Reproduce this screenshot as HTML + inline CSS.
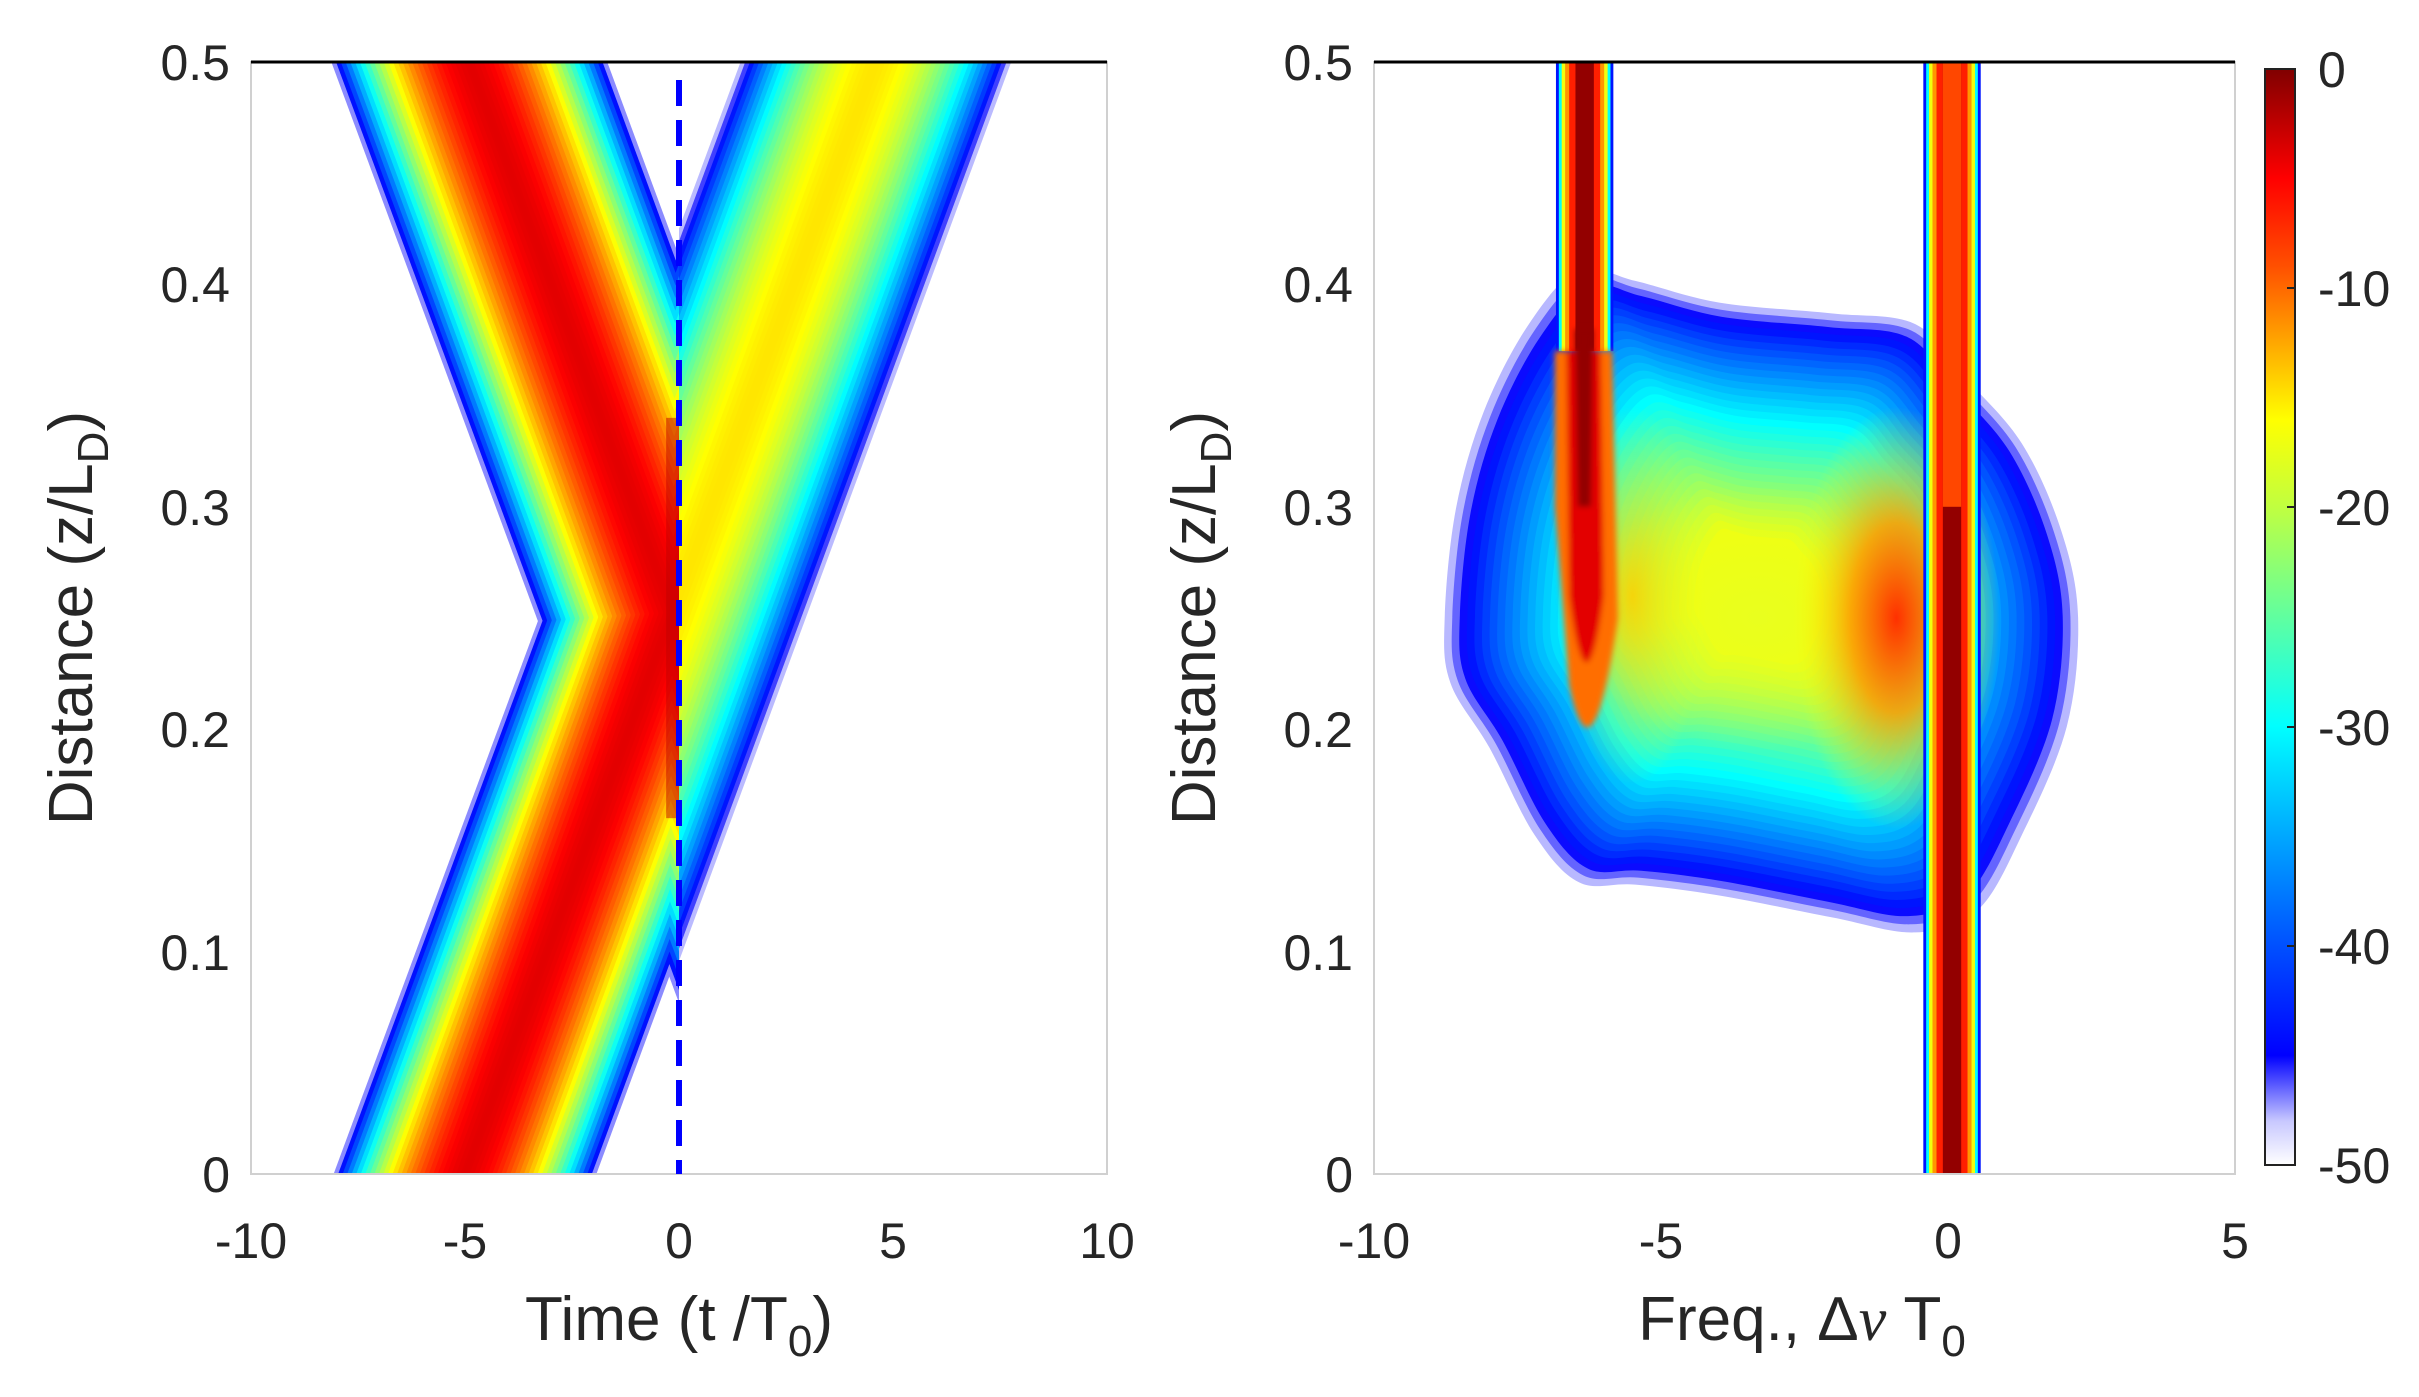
<!DOCTYPE html>
<html><head><meta charset="utf-8">
<style>
html,body{margin:0;padding:0;background:#fff;}
svg{display:block;}
text{font-family:"Liberation Sans",Arial,sans-serif;fill:#262626;}
</style></head>
<body>
<svg id="s" xmlns="http://www.w3.org/2000/svg" width="2419" height="1397" viewBox="0 0 2419 1397">
<defs>
<clipPath id="cL"><rect x="251" y="62" width="428" height="1112"/></clipPath>
<clipPath id="cR"><rect x="679" y="62" width="428" height="1112"/></clipPath>
<clipPath id="cS"><rect x="1374" y="62" width="861" height="1112"/></clipPath>
<linearGradient id="cb" x1="0" y1="1" x2="0" y2="0">
<stop offset="0" stop-color="#ffffff"/><stop offset="0.04" stop-color="#c8c8ff"/><stop offset="0.1" stop-color="#0000ff"/>
<stop offset="0.2" stop-color="#0050ff"/><stop offset="0.4" stop-color="#00ffff"/><stop offset="0.6" stop-color="#c0ff40"/>
<stop offset="0.68" stop-color="#ffff00"/><stop offset="0.82" stop-color="#ff5000"/><stop offset="0.9" stop-color="#ff0000"/><stop offset="1" stop-color="#800000"/>
</linearGradient>
<radialGradient id="g0" cx="0.5" cy="0.5" r="0.5">
<stop offset="0" stop-color="#ff3000" stop-opacity="1"/><stop offset="0.45" stop-color="#ffa000" stop-opacity="0.9"/><stop offset="1" stop-color="#ffff00" stop-opacity="0"/>
</radialGradient>
<radialGradient id="g1" cx="0.5" cy="0.5" r="0.5">
<stop offset="0" stop-color="#ffd000" stop-opacity="0.9"/><stop offset="1" stop-color="#ffff00" stop-opacity="0"/>
</radialGradient>
<radialGradient id="g2" cx="0.5" cy="0.5" r="0.5">
<stop offset="0" stop-color="#e8ff20" stop-opacity="0.9"/><stop offset="1" stop-color="#e8ff20" stop-opacity="0"/>
</radialGradient>
<filter id="bl"><feGaussianBlur stdDeviation="3"/></filter>
</defs>
<g id="L1" clip-path="url(#cL)"></g>
<g id="L2" clip-path="url(#cR)"></g>
<g id="R" clip-path="url(#cS)"></g>
</svg>
<script>
function jet(v){
  var t=(v+50)/50; if(t<0)t=0; if(t>1)t=1;
  var r,g,b;
  if(t<0.1){var a=t/0.1; a=Math.pow(a,1.5); r=255*(1-a); g=255*(1-a); b=255; return 'rgb('+Math.round(r)+','+Math.round(g)+','+Math.round(b)+')';}
  var s=0.125+(t-0.1)/0.9*0.875;
  function f(x){return Math.max(0,Math.min(1,1.5-Math.abs(4*x)));}
  r=f(s-0.75); g=f(s-0.5); b=f(s-0.25);
  return 'rgb('+Math.round(r*255)+','+Math.round(g*255)+','+Math.round(b*255)+')';
}
var NS='http://www.w3.org/2000/svg';
function el(p,tag,attrs){var e=document.createElementNS(NS,tag);for(var k in attrs)e.setAttribute(k,attrs[k]);p.appendChild(e);return e;}
var yz=function(z){return 1174-2224*z;};
var xt=function(t){return 679+42.8*t;};
var L1=document.getElementById('L1'),L2=document.getElementById('L2'),R=document.getElementById('R');
var N=30;
for(var i=0;i<=N;i++){
  var f=1-i/N; if(f<0.02)f=0.02;
  var w=255*f;
  var c=jet(-5-45*f*f);
  el(L1,'line',{x1:xt(-5+19.2*-0.05),y1:yz(-0.05),x2:xt(-5+19.2*0.55),y2:yz(0.55),stroke:c,'stroke-width':w});
  el(L1,'line',{x1:xt(4.7+19.2*0.05),y1:yz(-0.05),x2:xt(4.7-19.2*0.55),y2:yz(0.55),stroke:c,'stroke-width':w*1.05});
  el(L2,'line',{x1:xt(-5+19.2*-0.05),y1:yz(-0.05),x2:xt(-5+19.2*0.55),y2:yz(0.55),stroke:jet(-18-32*f*f),'stroke-width':w*1.03});
}
el(L1,'rect',{x:xt(-0.3),y:yz(0.34),width:xt(0)-xt(-0.3),height:yz(0.16)-yz(0.34),fill:'#c00000',opacity:0.5});
var xf=function(f){return 1948+57.4*f;};
var pts=[[-8.9,0.25],[-8.7,0.30],[-8.2,0.345],[-7.4,0.385],[-6.5,0.41],[-5.5,0.405],[-4,0.395],[-2,0.39],[-0.5,0.385],[0.4,0.36],[1.4,0.33],[2.1,0.29],[2.4,0.25],[2.2,0.2],[1.4,0.15],[0.6,0.115],[-0.5,0.105],[-2,0.112],[-4,0.122],[-5.5,0.127],[-6.5,0.128],[-7.3,0.15],[-8.1,0.19],[-8.8,0.22]];
function smooth(P){
  var n=P.length,d='M'+P[0][0]+','+P[0][1];
  for(var i=0;i<n;i++){
    var p0=P[(i-1+n)%n],p1=P[i],p2=P[(i+1)%n],p3=P[(i+2)%n];
    var c1=[p1[0]+(p2[0]-p0[0])/6,p1[1]+(p2[1]-p0[1])/6],c2=[p2[0]-(p3[0]-p1[0])/6,p2[1]-(p3[1]-p1[1])/6];
    d+=' C'+c1[0].toFixed(1)+','+c1[1].toFixed(1)+' '+c2[0].toFixed(1)+','+c2[1].toFixed(1)+' '+p2[0].toFixed(1)+','+p2[1].toFixed(1);
  }
  return d+'Z';
}
var cf=-3.3,cz=0.26,M=34;
for(var i=0;i<=M;i++){
  var s=1-0.8*i/M;
  var lvl=-50+30*Math.pow((1-s)/0.8,0.75);
  var P=pts.map(function(p){return [xf(cf+(p[0]-cf)*s),yz(cz+(p[1]-cz)*s)];});
  el(R,'path',{d:smooth(P),fill:jet(lvl)});
}
el(R,'ellipse',{cx:xf(-3.3),cy:yz(0.25),rx:57.4*3.2,ry:2224*0.06,fill:'url(#g2)'});
el(R,'ellipse',{cx:xf(-0.9),cy:yz(0.25),rx:57.4*1.8,ry:2224*0.095,fill:'url(#g0)'});
el(R,'ellipse',{cx:xf(-5.5),cy:yz(0.26),rx:57.4*1.3,ry:2224*0.085,fill:'url(#g1)'});
var lay=[[0.5,-44],[0.45,-32],[0.4,-20],[0.34,-14],[0.27,-8],[0.16,-1]];
lay.forEach(function(l){
  el(R,'rect',{x:xf(0.07-l[0]),y:yz(0.55),width:57.4*2*l[0],height:yz(-0.05)-yz(0.55),fill:jet(l[1])});
  el(R,'rect',{x:xf(-6.33-l[0]),y:yz(0.55),width:57.4*2*l[0],height:yz(0.37)-yz(0.55),fill:jet(l[1])});
});
el(R,'rect',{x:xf(0.07-0.16),y:yz(0.55),width:57.4*0.32,height:yz(0.3)-yz(0.55),fill:jet(-10)});
var g=el(R,'g',{filter:'url(#bl)'});
el(g,'path',{d:'M'+xf(-6.85)+','+yz(0.37)+' L'+xf(-5.85)+','+yz(0.37)+' L'+xf(-5.75)+','+yz(0.25)+' Q'+xf(-6.2)+','+yz(0.17)+' '+xf(-6.6)+','+yz(0.22)+' L'+xf(-6.85)+','+yz(0.3)+'Z',fill:jet(-12)});
el(g,'path',{d:'M'+xf(-6.65)+','+yz(0.37)+' L'+xf(-6.05)+','+yz(0.37)+' L'+xf(-6.0)+','+yz(0.26)+' Q'+xf(-6.3)+','+yz(0.2)+' '+xf(-6.6)+','+yz(0.26)+'Z',fill:jet(-5)});
el(g,'path',{d:'M'+xf(-6.5)+','+yz(0.38)+' L'+xf(-6.18)+','+yz(0.38)+' L'+xf(-6.22)+','+yz(0.3)+' L'+xf(-6.45)+','+yz(0.3)+'Z',fill:jet(-1)});
</script>
<svg style="position:absolute;left:0;top:0" xmlns="http://www.w3.org/2000/svg" width="2419" height="1397" viewBox="0 0 2419 1397">
<rect x="251" y="62" width="856" height="1112" fill="none" stroke="#d0d0d0" stroke-width="2"/>
<line x1="251" y1="62" x2="1107" y2="62" stroke="#000" stroke-width="3"/>
<line x1="679" y1="80" x2="679" y2="1174" stroke="#0000ff" stroke-width="6" stroke-dasharray="26,14"/>
<g font-size="50" text-anchor="end">
<text x="230" y="80">0.5</text><text x="230" y="302">0.4</text><text x="230" y="525">0.3</text>
<text x="230" y="747">0.2</text><text x="230" y="970">0.1</text><text x="230" y="1192">0</text>
</g>
<g font-size="50" text-anchor="middle">
<text x="251" y="1258">-10</text><text x="465" y="1258">-5</text><text x="679" y="1258">0</text>
<text x="893" y="1258">5</text><text x="1107" y="1258">10</text>
</g>
<text x="679" y="1340" font-size="62" text-anchor="middle">Time (t /T<tspan font-size="44" dy="16">0</tspan><tspan dy="-16">)</tspan></text>
<text transform="translate(92,618) rotate(-90)" font-size="62" text-anchor="middle">Distance (z/L<tspan font-size="44" dy="16">D</tspan><tspan dy="-16">)</tspan></text>
<rect x="1374" y="62" width="861" height="1112" fill="none" stroke="#d0d0d0" stroke-width="2"/>
<line x1="1374" y1="62" x2="2235" y2="62" stroke="#000" stroke-width="3"/>
<g font-size="50" text-anchor="end">
<text x="1353" y="80">0.5</text><text x="1353" y="302">0.4</text><text x="1353" y="525">0.3</text>
<text x="1353" y="747">0.2</text><text x="1353" y="970">0.1</text><text x="1353" y="1192">0</text>
</g>
<g font-size="50" text-anchor="middle">
<text x="1374" y="1258">-10</text><text x="1661" y="1258">-5</text><text x="1948" y="1258">0</text><text x="2235" y="1258">5</text>
</g>
<text x="1802" y="1340" font-size="62" text-anchor="middle">Freq., Δ<tspan font-style="italic" font-family="Liberation Serif">ν</tspan> T<tspan font-size="44" dy="16">0</tspan></text>
<text transform="translate(1215,618) rotate(-90)" font-size="62" text-anchor="middle">Distance (z/L<tspan font-size="44" dy="16">D</tspan><tspan dy="-16">)</tspan></text>
<rect x="2265" y="69" width="30" height="1096" fill="url(#cb)" stroke="#222" stroke-width="2"/>
<g stroke="#222" stroke-width="2">
<line x1="2287" y1="288" x2="2295" y2="288"/><line x1="2287" y1="507" x2="2295" y2="507"/>
<line x1="2287" y1="727" x2="2295" y2="727"/><line x1="2287" y1="946" x2="2295" y2="946"/>
</g>
<g font-size="50">
<text x="2318" y="87">0</text><text x="2318" y="306">-10</text><text x="2318" y="525">-20</text>
<text x="2318" y="745">-30</text><text x="2318" y="964">-40</text><text x="2318" y="1183">-50</text>
</g>
</svg>
</body></html>
